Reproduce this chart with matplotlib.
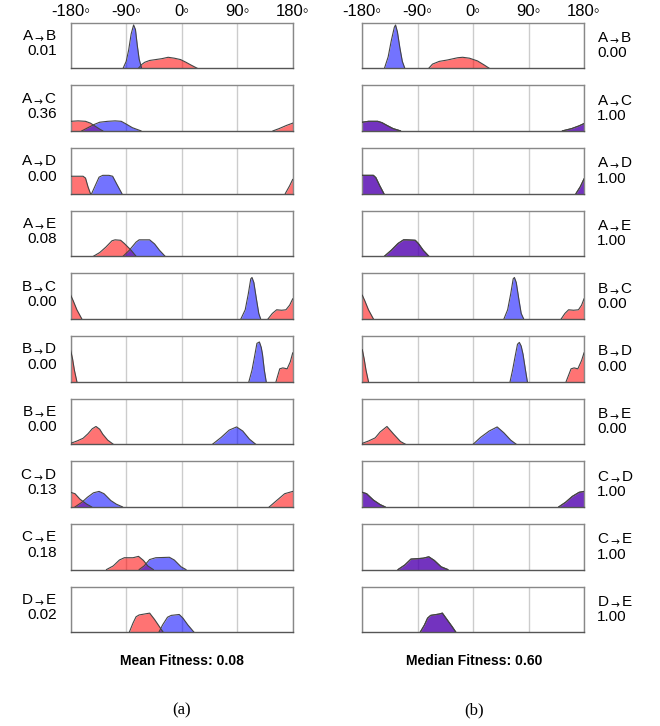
import matplotlib
matplotlib.use('Agg')
import matplotlib.pyplot as plt

plt.rcParams['font.family'] = ['Liberation Sans', 'DejaVu Sans']

# pair labels and fitness of each pair
pairs = [('A', 'B'), ('A', 'C'), ('A', 'D'), ('A', 'E'), ('B', 'C'),
         ('B', 'D'), ('B', 'E'), ('C', 'D'), ('C', 'E'), ('D', 'E')]
mean_fit = ['0.01', '0.36', '0.00', '0.08', '0.00', '0.00', '0.00', '0.13', '0.18', '0.02']
median_fit = ['0.00', '1.00', '1.00', '1.00', '0.00', '0.00', '0.00', '1.00', '1.00', '1.00']
mean_title = 'Mean Fitness: 0.08'
median_title = 'Median Fitness: 0.60'
tick_angles = [-180, -90, 0, 90, 180]

# curve outlines: (angle, height), one list per segment
mean_red = [
    [[(-70, 0), (-65, 0.08), (-60, 0.13), (-52, 0.17), (-42, 0.19), (-32, 0.21), (-22, 0.24),
      (-12, 0.22), (-2, 0.19), (7, 0.13), (15, 0.07), (25, 0)]],
    [[(-180, 0.21), (-168, 0.22), (-156, 0.21), (-148, 0.17), (-140, 0.1), (-132, 0.03), (-128, 0)],
     [(148, 0), (158, 0.05), (170, 0.12), (180, 0.17)]],
    [[(-180, 0.38), (-160, 0.38), (-156, 0.34), (-152, 0.15), (-148, 0)],
     [(168, 0), (175, 0.17), (180, 0.31)]],
    [[(-143, 0), (-133, 0.08), (-123, 0.2), (-113, 0.34), (-108, 0.36), (-99, 0.35), (-93, 0.28),
      (-82, 0.13), (-74, 0)]],
    [[(-180, 0.52), (-176, 0.4), (-170, 0.2), (-162, 0)],
     [(140, 0), (147, 0.12), (154, 0.2), (162, 0.19), (169, 0.2), (175, 0.3), (180, 0.44)]],
    [[(-180, 0.68), (-177, 0.5), (-174, 0.25), (-170, 0)],
     [(153, 0), (159, 0.28), (164, 0.3), (171, 0.28), (176, 0.43), (180, 0.63)]],
    [[(-180, 0.02), (-170, 0.07), (-160, 0.13), (-152, 0.23), (-145, 0.34), (-139, 0.39),
      (-133, 0.33), (-128, 0.22), (-120, 0.09), (-111, 0)]],
    [[(-180, 0.32), (-173, 0.29), (-165, 0.17), (-154, 0.06), (-146, 0)],
     [(142, 0), (154, 0.14), (167, 0.29), (180, 0.34)]],
    [[(-122, 0), (-111, 0.08), (-101, 0.21), (-93, 0.26), (-79, 0.26), (-70, 0.29), (-62, 0.2),
      (-55, 0.08), (-46, 0)]],
    [[(-85, 0), (-79, 0.2), (-74, 0.34), (-69, 0.38), (-52, 0.42), (-44, 0.28), (-36, 0.12), (-30, 0)]],
]

mean_blue = [
    [[(-95, 0), (-90, 0.15), (-86, 0.4), (-82, 0.75), (-78, 0.95), (-75, 0.85), (-72, 0.5),
      (-69, 0.2), (-65, 0)]],
    [[(-162, 0), (-152, 0.07), (-142, 0.14), (-133, 0.19), (-120, 0.21), (-108, 0.22), (-98, 0.21),
      (-90, 0.15), (-80, 0.07), (-66, 0)]],
    [[(-146, 0), (-140, 0.18), (-134, 0.36), (-128, 0.4), (-118, 0.4), (-112, 0.38), (-105, 0.2), (-97, 0)]],
    [[(-95, 0), (-85, 0.13), (-74, 0.31), (-69, 0.36), (-52, 0.36), (-44, 0.27), (-36, 0.13), (-27, 0)]],
    [[(96, 0), (103, 0.2), (108, 0.55), (112, 0.88), (114, 0.91), (117, 0.8), (121, 0.45),
      (125, 0.12), (128, 0)]],
    [[(109, 0), (114, 0.25), (118, 0.54), (122, 0.84), (126, 0.87), (129, 0.75), (131, 0.6),
      (134, 0.25), (137, 0)]],
    [[(50, 0), (64, 0.15), (77, 0.31), (89, 0.38), (99, 0.29), (110, 0.11), (120, 0)]],
    [[(-173, 0), (-162, 0.1), (-153, 0.21), (-143, 0.31), (-134, 0.34), (-126, 0.29), (-115, 0.14),
      (-106, 0.06), (-96, 0)]],
    [[(-69, 0), (-61, 0.08), (-52, 0.22), (-42, 0.26), (-20, 0.27), (-12, 0.21), (-1, 0.06), (7, 0)]],
    [[(-37, 0), (-31, 0.16), (-23, 0.33), (-17, 0.37), (-4, 0.39), (2, 0.31), (10, 0.16), (20, 0)]],
]

median_red = [
    [[(-72, 0), (-66, 0.09), (-55, 0.15), (-42, 0.18), (-25, 0.23), (-17, 0.24), (-6, 0.22),
      (7, 0.16), (18, 0.07), (26, 0)]],
    [[(-180, 0.19), (-170, 0.21), (-155, 0.21), (-148, 0.18), (-140, 0.12), (-130, 0.05), (-118, 0)],
     [(145, 0), (160, 0.05), (172, 0.11), (180, 0.16)]],
    [[(-180, 0.4), (-162, 0.4), (-158, 0.35), (-152, 0.18), (-145, 0)],
     [(167, 0), (174, 0.15), (180, 0.32)]],
    [[(-144, 0), (-133, 0.13), (-122, 0.28), (-113, 0.36), (-108, 0.36), (-94, 0.35), (-89, 0.28),
      (-81, 0.13), (-72, 0)]],
    [[(-180, 0.52), (-176, 0.4), (-170, 0.2), (-162, 0)],
     [(143, 0), (149, 0.12), (155, 0.2), (163, 0.19), (171, 0.2), (176, 0.3), (180, 0.44)]],
    [[(-180, 0.7), (-177, 0.5), (-174, 0.25), (-170, 0)],
     [(151, 0), (159, 0.28), (164, 0.3), (170, 0.28), (176, 0.46), (180, 0.63)]],
    [[(-180, 0.02), (-170, 0.07), (-159, 0.14), (-151, 0.27), (-140, 0.39), (-129, 0.22),
      (-118, 0.06), (-110, 0)]],
    [[(-180, 0.32), (-173, 0.29), (-162, 0.15), (-151, 0.05), (-143, 0)],
     [(139, 0), (150, 0.1), (161, 0.23), (172, 0.32), (180, 0.34)]],
    [[(-122, 0), (-111, 0.1), (-101, 0.23), (-90, 0.24), (-81, 0.25), (-72, 0.28), (-63, 0.2),
      (-52, 0.06), (-41, 0)]],
    [[(-86, 0), (-79, 0.16), (-74, 0.31), (-69, 0.37), (-55, 0.4), (-50, 0.42), (-42, 0.27),
      (-34, 0.12), (-28, 0)]],
]

# where both curves coincide the blue one is the same as the red one (shows purple)
median_blue = [
    [[(-144, 0), (-138, 0.25), (-133, 0.6), (-128, 0.9), (-126, 0.95), (-123, 0.8), (-119, 0.45),
      (-115, 0.15), (-111, 0)]],
    median_red[1],
    median_red[2],
    median_red[3],
    [[(50, 0), (56, 0.2), (61, 0.55), (65, 0.88), (67, 0.91), (70, 0.8), (74, 0.45), (78, 0.12), (82, 0)]],
    [[(60, 0), (64, 0.25), (68, 0.54), (72, 0.82), (75, 0.86), (78, 0.78), (81, 0.6), (85, 0.25), (88, 0)]],
    [[(0, 0), (12, 0.15), (26, 0.29), (39, 0.38), (50, 0.25), (61, 0.09), (70, 0)]],
    median_red[7],
    median_red[8],
    median_red[9],
]

W, H = 660, 726
fig = plt.figure(figsize=(W / 100, H / 100), dpi=100)


def fx(px):
    return px / W


def fy(py):
    return 1 - py / H


def draw_panel(ax, reds, blues):
    for seg in reds:
        xs = [p[0] for p in seg]
        ys = [p[1] for p in seg]
        ax.fill_between(xs, ys, 0, color='red', alpha=0.55, lw=0, zorder=2)
        ax.plot(xs, ys, color='#444444', lw=0.8, zorder=3)
    for seg in blues:
        xs = [p[0] for p in seg]
        ys = [p[1] for p in seg]
        ax.fill_between(xs, ys, 0, color='blue', alpha=0.55, lw=0, zorder=2)
        ax.plot(xs, ys, color='#444444', lw=0.8, zorder=3)
    ax.set_xlim(-180, 180)
    ax.set_ylim(0, 1)
    ax.set_xticks(tick_angles)
    ax.set_yticks([])
    ax.grid(axis='x', color='#cccccc', lw=1, zorder=0)
    ax.tick_params(length=0, labelbottom=False)
    for s in ax.spines.values():
        s.set_color('#888888')
        s.set_linewidth(1.0)
    ax.spines['bottom'].set_color('#555555')


panel_h = 45.5
pitch = 62.67
first_top = 22.7
left_x0, left_w = 70.7, 222
right_x0, right_w = 362.3, 221.7

for i in range(len(pairs)):
    top = first_top + i * pitch
    for side in range(2):
        x0 = left_x0 if side == 0 else right_x0
        w = left_w if side == 0 else right_w
        ax = fig.add_axes([fx(x0), fy(top + panel_h), fx(w), panel_h / H])
        if side == 0:
            draw_panel(ax, mean_red[i], mean_blue[i])
        else:
            draw_panel(ax, median_red[i], median_blue[i])
        if i == 0:
            ax.tick_params(labeltop=True, pad=3)
            ax.set_xticklabels(['%d\u25e6' % a for a in tick_angles], fontsize=12)

    a, b = pairs[i]
    lab = a + r'$_{\rightarrow}$' + b
    fig.text(fx(57), fy(top + 13), lab, ha='right', va='center', fontsize=11)
    fig.text(fx(57), fy(top + 28.5), mean_fit[i], ha='right', va='center', fontsize=11)
    fig.text(fx(597), fy(top + 15), lab, ha='left', va='center', fontsize=11)
    fig.text(fx(597), fy(top + 30.5), median_fit[i], ha='left', va='center', fontsize=11)

fig.text(fx(182), fy(661), mean_title, ha='center', va='center', fontsize=10, fontweight='bold')
fig.text(fx(474), fy(661), median_title, ha='center', va='center', fontsize=10, fontweight='bold')
fig.text(fx(182), fy(710), '(a)', ha='center', va='center', fontsize=12, family='Liberation Serif')
fig.text(fx(474), fy(710), '(b)', ha='center', va='center', fontsize=12, family='Liberation Serif')

fig.savefig('out.png', dpi=100, facecolor='white')
